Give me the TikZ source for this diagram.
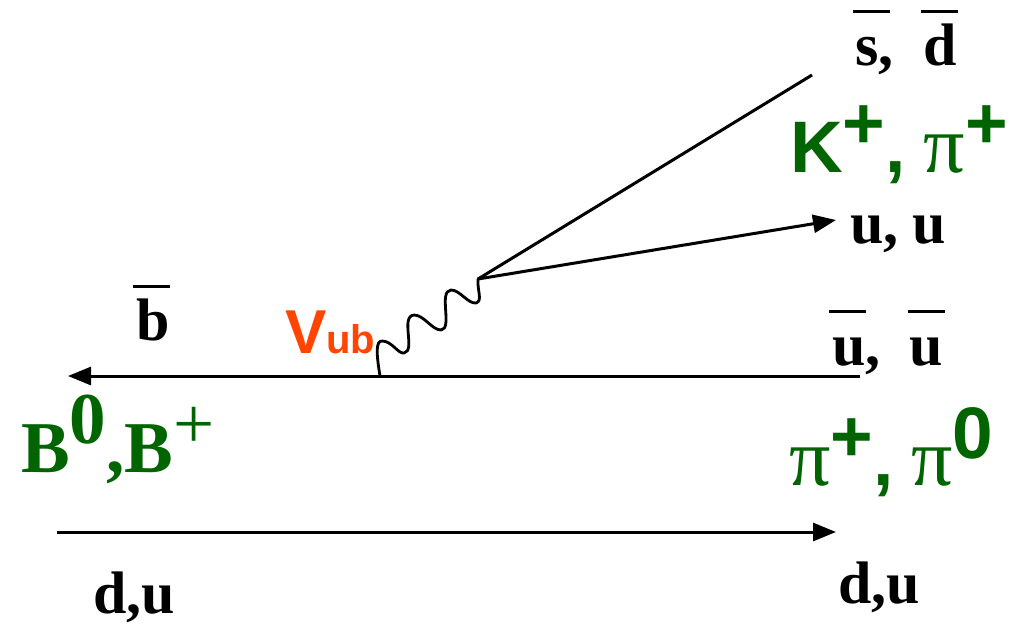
\documentclass[tikz,border=0pt]{standalone}
\usepackage{fontspec}
\setmainfont{Liberation Serif}
\setsansfont{Liberation Sans}
\usepackage{xcolor}
\usetikzlibrary{arrows.meta}
\definecolor{meson}{HTML}{006400}
\definecolor{ckm}{HTML}{FF4500}
\newcommand{\qbar}[2][0pt]{\rlap{\hspace*{#1}\raisebox{52pt}{\rule{37pt}{3.2pt}}}#2}
\newcommand{\hi}[2]{\raisebox{#1}{#2}}
\newcommand{\pisym}{{\fontsize{82}{84}\selectfont\rmfamily\mdseries π}}
\tikzset{
  quark/.style={anchor=base west, inner sep=0pt, font=\fontsize{60}{62}\selectfont\bfseries},
  hadron/.style={anchor=base west, inner sep=0pt, text=meson, font=\fontsize{73}{75}\selectfont\bfseries},
  hadronsf/.style={hadron, font=\fontsize{73}{75}\selectfont\sffamily\bfseries},
  fermion/.style={line width=3pt},
  boson/.style={line width=2.8pt, line cap=round}
}

\begin{document}
\begin{tikzpicture}[x=1pt, y=-1pt, >={Triangle[length=23pt,width=18pt]}]
  \useasboundingbox (0,0) rectangle (1009,625);
  % vertices and line ends
  \coordinate (vub) at (380,376);
  \coordinate (vtx) at (478,279);
  \coordinate (bin) at (860,376);
  \coordinate (bout) at (68,376);
  \coordinate (sEnd) at (812,75);
  \coordinate (uEnd) at (836,220);
  \coordinate (spIn) at (57,532);
  \coordinate (spOut) at (836,532);
  % quark lines
  \draw[fermion, ->] (bin) -- (bout);
  \draw[fermion, ->] (spIn) -- (spOut);
  \draw[fermion, ->] (vtx) -- (uEnd);
  \draw[fermion] (vtx) -- (sEnd);
  \draw[boson] (vub) .. controls (376,352) and (376,341) .. (382,341)
    .. controls (392,341) and (398,354) .. (404,353)
    .. controls (416,351) and (400,316) .. (414,315)
    .. controls (424,315) and (432,330) .. (441,330)
    .. controls (453,329) and (438,291) .. (451,290)
    .. controls (460,290) and (468,304) .. (476,303)
    .. controls (483,301) and (477,290) .. (vtx);
  % quark labels
  \node[quark] (sd) at (855,65) {\qbar[-2pt]{s},\hspace{30pt}\qbar[-3pt]{d}};
  \node[quark] (uu) at (850,243) {u,\hspace{14pt}u};
  \node[quark] (ubar) at (832,365) {\qbar[-3pt]{u},\hspace{29pt}\qbar[-2pt]{u}};
  \node[quark] (b) at (136,340) {\qbar[-3pt]{b}};
  \node[quark] (duL) at (93,613) {d,u};
  \node[quark] (duR) at (838,603) {d,u};
  % hadrons
  \node[hadronsf] (kpi) at (790,172)
    {K\hi{24pt}{+},\hspace{18pt}\pisym\hi{24pt}{+}};
  \node[hadronsf] (pipi) at (789,485)
    {\pisym\hi{24pt}{+},\hspace{18pt}\pisym\hi{27pt}{0}};
  \node[hadron] (bmes) at (21,472) {B\hi{29pt}{0},B\hi{24pt}{\mdseries +}};
  \node[anchor=base west, inner sep=0pt, text=ckm, font=\fontsize{62}{64}\selectfont\sffamily\bfseries] (vlab) at (285,353)
    {V{\fontsize{40}{42}\selectfont ub}};
\end{tikzpicture}
\end{document}
